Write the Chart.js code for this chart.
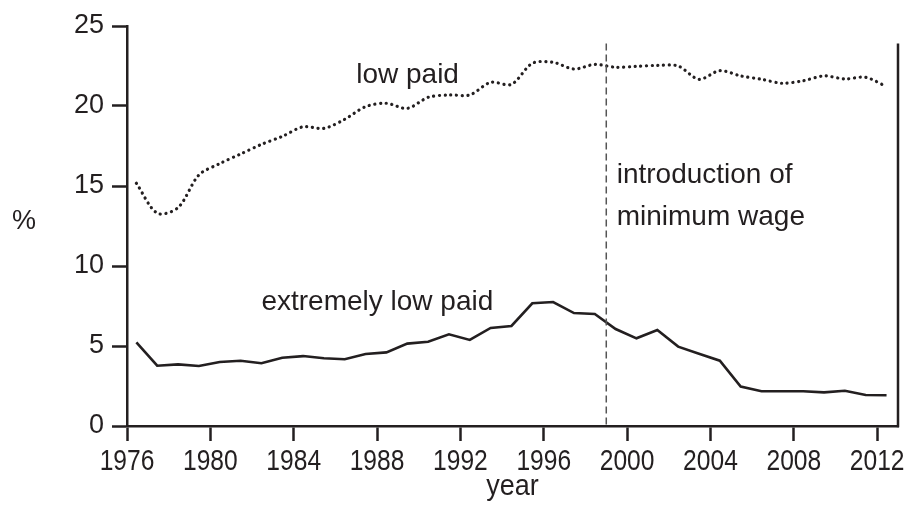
<!DOCTYPE html>
<html>
<head>
<meta charset="utf-8">
<script src="https://cdn.jsdelivr.net/npm/chart.js@4.4.1/dist/chart.umd.min.js"></script>
<style>
  html, body { margin: 0; padding: 0; background: #fff; }
  #wrap { width: 911px; height: 525px; }
</style>
</head>
<body>
<div id="wrap"><canvas id="chart" width="911" height="525"></canvas></div>
<script>
// data (annual values, % of employees)
const years = [1976, 1977, 1978, 1979, 1980, 1981, 1982, 1983, 1984, 1985,
  1986, 1987, 1988, 1989, 1990, 1991, 1992, 1993, 1994, 1995, 1996, 1997,
  1998, 1999, 2000, 2001, 2002, 2003, 2004, 2005, 2006, 2007, 2008, 2009,
  2010, 2011, 2012];
const lowPaid = [15.17, 13.3, 13.65, 15.69, 16.4, 17.0, 17.6, 18.1, 18.7, 18.6,
  19.17, 19.96, 20.17, 19.85, 20.54, 20.69, 20.69, 21.48, 21.35, 22.67, 22.73, 22.31,
  22.6, 22.42, 22.48, 22.54, 22.5, 21.67, 22.21, 21.88, 21.67, 21.42, 21.58, 21.88,
  21.69, 21.79, 21.21];
const extremelyLowPaid = [5.23, 3.77, 3.85, 3.75, 4.0, 4.08, 3.92, 4.27, 4.37, 4.23,
  4.17, 4.5, 4.6, 5.15, 5.27, 5.73, 5.38, 6.13, 6.25, 7.67, 7.75, 7.06,
  7.0, 6.06, 5.48, 6.0, 4.96, 4.52, 4.08, 2.46, 2.17, 2.17, 2.17, 2.1,
  2.2, 1.94, 1.92];
const xTicks = [1976, 1980, 1984, 1988, 1992, 1996, 2000, 2004, 2008, 2012];
const yTicks = [0, 5, 10, 15, 20, 25];
const minimumWageYear = 1999;

const ink = "#231f20";
const font = "'Liberation Sans', Arial, Helvetica, sans-serif";

// values are mid-year, so shift each point into its year
function toPoints(values) {
  return values.map((v, i) => ({ x: years[i] + 0.45, y: v }));
}

// labels, dashed marker, right frame line, and "%" / "year" titles
const extras = {
  id: "extras",
  afterDatasetsDraw(chart) {
    const ctx = chart.ctx;
    const xs = chart.scales.x;
    const ys = chart.scales.y;
    const area = chart.chartArea;
    ctx.save();

    // minimum wage marker
    ctx.strokeStyle = "#555";
    ctx.lineWidth = 1.5;
    ctx.setLineDash([7, 4]);
    const mx = xs.getPixelForValue(minimumWageYear);
    ctx.beginPath();
    ctx.moveTo(mx, ys.getPixelForValue(23.9));
    ctx.lineTo(mx, ys.getPixelForValue(0));
    ctx.stroke();
    ctx.setLineDash([]);

    // right frame line
    ctx.strokeStyle = ink;
    ctx.lineWidth = 2.5;
    ctx.beginPath();
    ctx.moveTo(area.right, ys.getPixelForValue(23.9));
    ctx.lineTo(area.right, area.bottom + 1.25);
    ctx.stroke();

    ctx.fillStyle = ink;
    ctx.textBaseline = "middle";
    ctx.textAlign = "left";
    ctx.font = "28px " + font;
    ctx.fillText("low paid", xs.getPixelForValue(1987.0), ys.getPixelForValue(21.94));
    ctx.fillText("extremely low paid", xs.getPixelForValue(1982.45), ys.getPixelForValue(7.75));
    ctx.fillText("introduction of", xs.getPixelForValue(1999.5), ys.getPixelForValue(15.69));
    ctx.fillText("minimum wage", xs.getPixelForValue(1999.5), ys.getPixelForValue(13.06));

    ctx.textAlign = "center";
    ctx.font = "27px " + font;
    ctx.fillText("%", 24, ys.getPixelForValue(12.75));

    // year labels are set in a condensed face in the reference
    ctx.textBaseline = "alphabetic";
    ctx.font = "30px " + font;
    xs.ticks.forEach((t) => {
      ctx.save();
      ctx.translate(xs.getPixelForValue(t.value), 470);
      ctx.scale(0.82, 1);
      ctx.fillText(String(t.value), 0, 0);
      ctx.restore();
    });
    ctx.save();
    ctx.translate((area.left + area.right) / 2, 495);
    ctx.scale(0.9, 1);
    ctx.fillText("year", 0, 0);
    ctx.restore();
    ctx.restore();
  }
};

new Chart(document.getElementById("chart"), {
  type: "line",
  data: {
    datasets: [
      {
        label: "low paid",
        data: toPoints(lowPaid),
        borderColor: ink,
        borderWidth: 3.2,
        borderDash: [0.1, 5.6],
        borderCapStyle: "round",
        tension: 0.3,
        pointRadius: 0
      },
      {
        label: "extremely low paid",
        data: toPoints(extremelyLowPaid),
        borderColor: ink,
        borderWidth: 2.6,
        tension: 0,
        pointRadius: 0
      }
    ]
  },
  options: {
    responsive: false,
    animation: false,
    layout: { padding: { top: 26, right: 13, left: 0, bottom: 0 } },
    plugins: { legend: { display: false }, tooltip: { enabled: false } },
    scales: {
      x: {
        type: "linear",
        min: 1976,
        max: 2013,
        afterBuildTicks: (s) => { s.ticks = xTicks.map(v => ({ value: v })); },
        afterFit: (s) => { s.height = 99; },
        grid: { drawOnChartArea: false, drawTicks: true, tickLength: 15, tickWidth: 2.5, tickColor: ink },
        border: { display: true, width: 2.5, color: ink },
        ticks: { display: false }
      },
      y: {
        min: 0,
        max: 25,
        afterBuildTicks: (s) => { s.ticks = yTicks.map(v => ({ value: v })); },
        afterFit: (s) => { s.width = 127; },
        grid: { drawOnChartArea: false, drawTicks: true, tickLength: 15, tickWidth: 2.5, tickColor: ink },
        border: { display: true, width: 2.5, color: ink },
        ticks: {
          color: ink,
          padding: 8,
          font: { family: font, size: 27 }
        }
      }
    }
  },
  plugins: [extras]
});
</script>
</body>
</html>
